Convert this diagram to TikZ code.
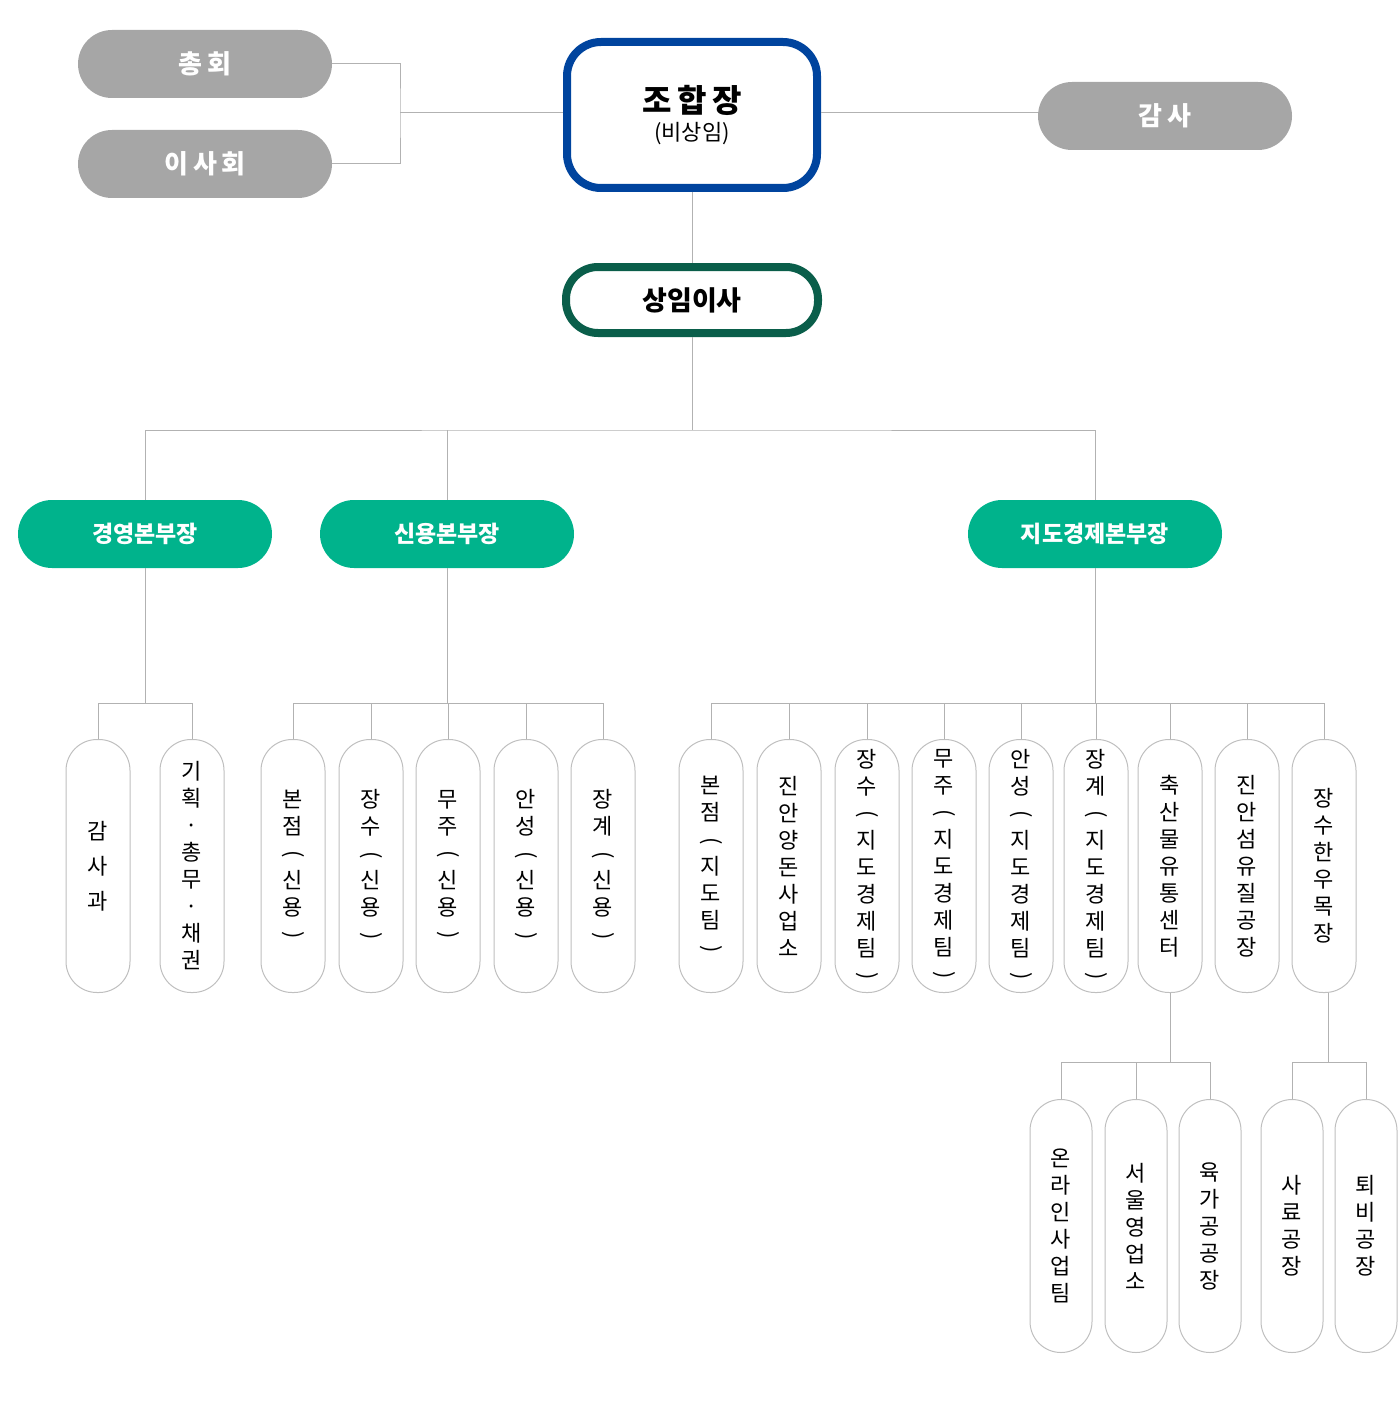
\documentclass[tikz,border=0pt]{standalone}
\usepackage{fontspec}
\setmainfont{Noto Sans CJK KR}
\newcommand{\lp}{\rotatebox[origin=c]{-90}{(}}
\newcommand{\rp}{\rotatebox[origin=c]{-90}{)}}
\definecolor{boxgray}{HTML}{A6A6A6}
\definecolor{chiefblue}{HTML}{00449E}
\definecolor{execgreen}{HTML}{0A5E4A}
\definecolor{headgreen}{HTML}{00B38C}
\tikzset{
  graybox/.style={fill=boxgray, rounded corners=17pt, minimum width=127pt, minimum height=34pt,
    text=white, font=\fontsize{13}{13}\selectfont\bfseries},
  greenbox/.style={fill=headgreen, rounded corners=17pt, minimum width=127pt, minimum height=34pt,
    text=white, font=\fontsize{11.5}{12}\selectfont\bfseries},
  pill/.style={draw=black!25, line width=0.5pt, rounded corners=15.5pt, minimum width=32pt,
    minimum height=126.5pt, align=center, font=\fontsize{11}{13.5}\selectfont, inner sep=0pt},
  link/.style={draw=black!30, line width=0.5pt}
}
\begin{document}
\begin{tikzpicture}[x=0.5pt,y=-0.5pt]
\useasboundingbox (0,0) rectangle (1400,1412);
% top
\node[graybox] (gen) at (205,64) {총\,회};
\node[graybox] (board) at (205,164) {이\,사\,회};
\node[draw=chiefblue, line width=4pt, rounded corners=17pt, minimum width=125pt, minimum height=73pt, align=center] (chief) at (692,115)
  {{\fontsize{16}{18}\selectfont\bfseries 조\,합\,장}\\[2pt]{\fontsize{11}{12}\selectfont (비상임)}};
\node[graybox] (audit) at (1165,116) {감\,사};
\node[draw=execgreen, line width=4pt, minimum width=126pt, minimum height=33pt, rounded corners=16pt,
  font=\fontsize{13.5}{14}\selectfont\bfseries] (exec) at (692,300) {상임이사};
\coordinate (jn) at (400,113);
\draw[link] (gen.east) -| (jn) |- (board.east);
\draw[link] (jn) -- (chief.west |- jn);
\draw[link] (chief.east |- jn) -- (audit.west |- jn);
\draw[link] (chief.south) -- (exec.north);
% heads
\node[greenbox] (mgmt) at (145,534) {경영본부장};
\node[greenbox] (credit) at (447,534) {신용본부장};
\node[greenbox] (econ) at (1095,534) {지도경제본부장};
\coordinate (b1) at (692,430);
\draw[link] (exec.south) -- (b1);
\draw[link] (mgmt.north) |- (b1) -| (econ.north);
\draw[link] (credit.north) -- (credit.north |- b1);
% units
\foreach \n/\x/\t in {
  m1/98/감\\[4pt]사\\[4pt]과,
  m2/192/기\\획\\·\\총\\무\\·\\채\\권,
  c1/293/본\\점\\\lp\\신\\용\\\rp,
  c2/371/장\\수\\\lp\\신\\용\\\rp,
  c3/448/무\\주\\\lp\\신\\용\\\rp,
  c4/526/안\\성\\\lp\\신\\용\\\rp,
  c5/603/장\\계\\\lp\\신\\용\\\rp,
  e1/711/본\\점\\\lp\\지\\도\\팀\\\rp,
  e2/789/진\\안\\양\\돈\\사\\업\\소,
  e3/867/장\\수\\\lp\\지\\도\\경\\제\\팀\\\rp,
  e4/944/무\\주\\\lp\\지\\도\\경\\제\\팀\\\rp,
  e5/1021/안\\성\\\lp\\지\\도\\경\\제\\팀\\\rp,
  e6/1096/장\\계\\\lp\\지\\도\\경\\제\\팀\\\rp,
  e7/1170/축\\산\\물\\유\\통\\센\\터,
  e8/1247/진\\안\\섬\\유\\질\\공\\장,
  e9/1324/장\\수\\한\\우\\목\\장}
  \node[pill] (\n) at (\x,866) {\t};
\coordinate (b2) at (0,703);
\draw[link] (mgmt.south) -- (mgmt.south |- b2);
\draw[link] (m1.north) |- (b2 -| m2) -- (m2.north);
\draw[link] (credit.south) -- (credit.south |- b2);
\draw[link] (c1.north) |- (b2 -| c5) -- (c5.north);
\foreach \n in {c2,c3,c4} \draw[link] (\n.north) -- (\n.north |- b2);
\draw[link] (econ.south) -- (econ.south |- b2);
\draw[link] (e1.north) |- (b2 -| e9) -- (e9.north);
\foreach \n in {e2,e3,e4,e5,e6,e7,e8} \draw[link] (\n.north) -- (\n.north |- b2);
% sub units
\foreach \n/\x/\t in {
  s1/1061/온\\라\\인\\사\\업\\팀,
  s2/1136/서\\울\\영\\업\\소,
  s3/1210/육\\가\\공\\공\\장,
  s4/1292/사\\료\\공\\장,
  s5/1366/퇴\\비\\공\\장}
  \node[pill, minimum width=31pt] (\n) at (\x,1226) {\t};
\coordinate (b3) at (0,1062);
\draw[link] (e7.south) -- (e7.south |- b3);
\draw[link] (s1.north) |- (b3 -| s3) -- (s3.north);
\draw[link] (s2.north) -- (s2.north |- b3);
\coordinate (e9s) at ([xshift=2pt]e9.south);
\draw[link] (e9s) -- (e9s |- b3);
\draw[link] (s4.north) |- (b3 -| s5) -- (s5.north);
\end{tikzpicture}
\end{document}
